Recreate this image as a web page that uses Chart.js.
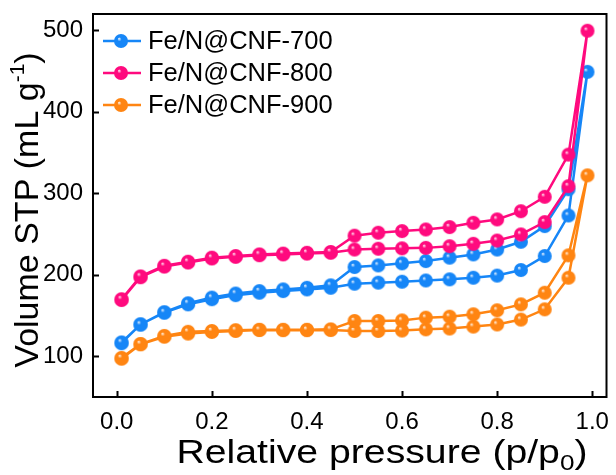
<!DOCTYPE html>
<html>
<head>
<meta charset="utf-8">
<script src="https://cdn.jsdelivr.net/npm/chart.js@4"></script>
<style>
  html, body { margin: 0; padding: 0; background: #fff; }
  #wrap { width: 616px; height: 475px; }
</style>
</head>
<body>
<div id="wrap"><canvas id="c"></canvas></div>
<script>
// relative pressure, adsorption branch (up) and desorption branch (down)
const adsP = [0.01, 0.05, 0.1, 0.15, 0.2, 0.25, 0.3, 0.35, 0.4, 0.45, 0.5, 0.55, 0.6, 0.65, 0.7, 0.75, 0.8, 0.85, 0.9, 0.95, 0.99];
const desP = [0.95, 0.9, 0.85, 0.8, 0.75, 0.7, 0.65, 0.6, 0.55, 0.5, 0.45, 0.4, 0.35, 0.3, 0.25, 0.2, 0.15, 0.1, 0.05, 0.01];

const labels = ['Fe/N@CNF-700', 'Fe/N@CNF-800', 'Fe/N@CNF-900'];
const colors = ['#1686f7', '#ff0a7e', '#ff8512'];

const ads700 = [116, 139, 153.5, 163.7, 170, 175, 178, 180, 182, 184, 189, 190.3, 191.5, 193, 194.4, 196.4, 199, 205.8, 223, 272.8, 449];
const des700 = [305, 259.7, 240.5, 231, 225, 221, 216.8, 214, 211.5, 209.5, 187, 184, 182, 180, 177, 172, 165, 154, 139, 117];
const ads800 = [169, 197, 210, 215, 220, 222, 224, 225, 226, 227, 231, 232, 232.4, 233, 235, 238, 242, 249.5, 264.6, 308.7, 499.5];
const des800 = [347.5, 295.7, 278, 267.9, 263.8, 258.5, 255.6, 253.6, 251.6, 248, 228, 227, 226, 225, 223, 221, 216, 211, 198, 170];
const ads900 = [97, 114.7, 124, 127.8, 129.8, 131, 132.2, 132, 132, 132.2, 131, 131, 131.6, 133, 134, 136.4, 139, 145, 157.6, 196.4, 322];
const des900 = [223.8, 178, 163.7, 156.4, 151.5, 148.6, 147.4, 144, 143.3, 143.3, 133, 132.5, 132.5, 132.5, 132, 131, 130, 125, 115, 98];

const xTicks = [0, 0.2, 0.4, 0.6, 0.8, 1.0];
const yTicks = [100, 200, 300, 400, 500];

const FONT = '"Liberation Sans", Arial, sans-serif';

function loop(ads, des) {
  const pts = adsP.map((p, i) => ({ x: p, y: ads[i] }));
  return pts.concat(desP.map((p, i) => ({ x: p, y: des[i] })));
}

// shiny ball marker
function ball(color, r) {
  const s = Math.ceil(r * 2 + 2);
  const cv = document.createElement('canvas');
  cv.width = s; cv.height = s;
  const g = cv.getContext('2d');
  const c = s / 2;
  const grad = g.createRadialGradient(c - r * 0.3, c - r * 0.35, 0, c, c, r);
  grad.addColorStop(0, '#ffffff');
  grad.addColorStop(0.3, color);
  grad.addColorStop(1, color);
  g.fillStyle = grad;
  g.beginPath();
  g.arc(c, c, r, 0, Math.PI * 2);
  g.fill();
  return cv;
}

const series = [loop(ads700, des700), loop(ads800, des800), loop(ads900, des900)];

const frame = {
  id: 'frame',
  afterDraw(chart) {
    const { ctx, chartArea: a, scales } = chart;
    ctx.save();
    ctx.strokeStyle = '#000';
    ctx.lineWidth = 2;
    ctx.strokeRect(a.left, a.top, a.right - a.left, a.bottom - a.top);
    ctx.beginPath();
    xTicks.forEach(v => {
      const x = Math.round(scales.x.getPixelForValue(v)) + 0.5;
      ctx.moveTo(x, a.bottom); ctx.lineTo(x, a.bottom - 6);
    });
    yTicks.forEach(v => {
      const y = Math.round(scales.y.getPixelForValue(v)) + 0.5;
      ctx.moveTo(a.left, y); ctx.lineTo(a.left + 6, y);
    });
    ctx.stroke();

    // legend
    ctx.textBaseline = 'middle';
    ctx.textAlign = 'left';
    ctx.font = '25.5px ' + FONT;
    labels.forEach((t, i) => {
      const y = 41 + i * 32;
      ctx.strokeStyle = colors[i];
      ctx.lineWidth = 2.5;
      ctx.beginPath(); ctx.moveTo(103, y); ctx.lineTo(141, y); ctx.stroke();
      const b = ball(colors[i], 7);
      ctx.drawImage(b, 121 - b.width / 2, y - b.height / 2);
      ctx.fillStyle = '#000';
      ctx.fillText(t, 148, y + 1);
    });

    // x title with subscript (slightly stretched horizontally like the original)
    ctx.fillStyle = '#000';
    ctx.textBaseline = 'alphabetic';
    const big = '33px ' + FONT, small = '22px ' + FONT;
    const parts = [['Relative pressure (p/p', big, 0], ['0', small, 7], [')', big, 0]];
    let w = 0;
    parts.forEach(p => { ctx.font = p[1]; w += ctx.measureText(p[0]).width; });
    ctx.save();
    ctx.translate(382, 463);
    ctx.scale(411 / w, 1);
    let x = -w / 2;
    parts.forEach(p => { ctx.font = p[1]; ctx.fillText(p[0], x, p[2]); x += ctx.measureText(p[0]).width; });
    ctx.restore();

    // y title with superscript
    ctx.save();
    ctx.translate(38, 210);
    ctx.rotate(-Math.PI / 2);
    const yb = '34px ' + FONT, ys = '21px ' + FONT;
    const yparts = [['Volume STP (mL g', yb, 0], ['-1', ys, -14], [')', yb, 0]];
    w = 0;
    yparts.forEach(p => { ctx.font = p[1]; w += ctx.measureText(p[0]).width; });
    x = -w / 2;
    yparts.forEach(p => { ctx.font = p[1]; ctx.fillText(p[0], x, p[2]); x += ctx.measureText(p[0]).width; });
    ctx.restore();
    ctx.restore();
  }
};

new Chart(document.getElementById('c'), {
  type: 'line',
  data: {
    datasets: series.map((d, i) => ({
      label: labels[i],
      data: d,
      borderColor: colors[i],
      backgroundColor: colors[i],
      borderWidth: 2.5,
      pointStyle: ball(colors[i], 7),
      pointRadius: 7,
      tension: 0,
      order: i === 1 ? 0 : (i === 0 ? 1 : 2)
    }))
  },
  options: {
    responsive: true,
    maintainAspectRatio: false,
    animation: false,
    layout: { padding: { left: 0, top: 14, right: 9, bottom: 0 } },
    plugins: { legend: { display: false }, tooltip: { enabled: false } },
    scales: {
      x: {
        type: 'linear',
        min: -0.05, max: 1.03,
        grid: { display: false, drawTicks: false },
        border: { display: false },
        afterBuildTicks: s => { s.ticks = xTicks.map(v => ({ value: v })); },
        afterFit: s => { s.height = 78; s.paddingLeft = 0; s.paddingRight = 0; },
        ticks: { color: '#000', padding: 11, font: { family: FONT, size: 24 }, callback: v => v.toFixed(1) }
      },
      y: {
        min: 50, max: 520,
        grid: { display: false, drawTicks: false },
        border: { display: false },
        afterBuildTicks: s => { s.ticks = yTicks.map(v => ({ value: v })); },
        afterFit: s => { s.width = 93; s.paddingTop = 0; s.paddingBottom = 0; },
        ticks: { color: '#000', padding: 10, font: { family: FONT, size: 24 } }
      }
    }
  },
  plugins: [frame]
});
</script>
</body>
</html>
